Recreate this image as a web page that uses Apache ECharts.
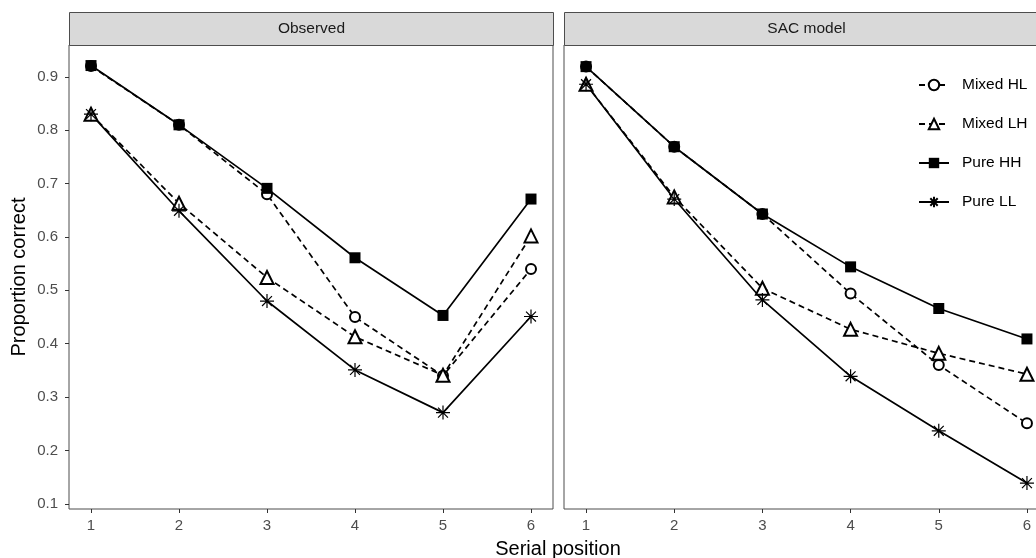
<!DOCTYPE html>
<html>
<head>
<meta charset="utf-8">
<script src="https://cdn.jsdelivr.net/npm/echarts@6/dist/echarts.min.js"></script>
<style>
  html, body { margin: 0; padding: 0; background: #fff; }
  #chart { width: 1036px; height: 558px; }
</style>
</head>
<body>
<div id="chart"></div>
<script>
// serial positions and y ticks
var positions = [1, 2, 3, 4, 5, 6]
var yTicks = [0.1, 0.2, 0.3, 0.4, 0.5, 0.6, 0.7, 0.8, 0.9]
var panelNames = ['Observed', 'SAC model']
var groupNames = ['Mixed HL', 'Mixed LH', 'Pure HH', 'Pure LL']

// Observed
var obsMixedHL = [0.92, 0.81, 0.68, 0.45, 0.34, 0.54]
var obsMixedLH = [0.83, 0.663, 0.524, 0.413, 0.341, 0.602]
var obsPureHH = [0.921, 0.81, 0.691, 0.561, 0.453, 0.671]
var obsPureLL = [0.83, 0.649, 0.48, 0.351, 0.271, 0.451]

// SAC model
var sacMixedHL = [0.919, 0.769, 0.643, 0.494, 0.36, 0.251]
var sacMixedLH = [0.886, 0.675, 0.504, 0.427, 0.382, 0.343]
var sacPureHH = [0.919, 0.769, 0.643, 0.544, 0.466, 0.409]
var sacPureLL = [0.886, 0.671, 0.482, 0.339, 0.237, 0.139]

var FONT = 'Liberation Sans, Arial, sans-serif'
var STAR = 'path://M0,5L10,5M5,0L5,10M1.46,1.46L8.54,8.54M8.54,1.46L1.46,8.54'

function pairs (vals) {
  var out = []
  for (var i = 0; i < positions.length; i++) {
    out.push([positions[i], vals[i]])
  }
  return out
}

// look of each group
var styles = {
  'Mixed HL': { symbol: 'emptyCircle', size: 10, dash: [6, 4], border: 1.2 },
  'Mixed LH': { symbol: 'emptyTriangle', size: 13, dash: [6, 4], border: 1.2 },
  'Pure HH': { symbol: 'rect', size: 11, dash: 'solid', border: 0 },
  'Pure LL': { symbol: STAR, size: 14, dash: 'solid', border: 1.2 }
}

function makeSeries (name, vals, idx) {
  var s = styles[name]
  return {
    name: name,
    type: 'line',
    xAxisIndex: idx,
    yAxisIndex: idx,
    data: pairs(vals),
    symbol: s.symbol,
    symbolSize: s.size,
    showAllSymbol: true,
    animation: false,
    lineStyle: { color: '#000', width: 1.7, type: s.dash },
    itemStyle: { color: '#000', borderColor: '#000', borderWidth: s.border }
  }
}

var series = [
  makeSeries('Mixed HL', obsMixedHL, 0),
  makeSeries('Mixed LH', obsMixedLH, 0),
  makeSeries('Pure HH', obsPureHH, 0),
  makeSeries('Pure LL', obsPureLL, 0),
  makeSeries('Mixed HL', sacMixedHL, 1),
  makeSeries('Mixed LH', sacMixedLH, 1),
  makeSeries('Pure HH', sacPureHH, 1),
  makeSeries('Pure LL', sacPureLL, 1)
]

function xAxis (idx) {
  return {
    type: 'value',
    gridIndex: idx,
    min: 0.75,
    max: 6.25,
    splitLine: { show: false },
    axisLine: { show: false },
    axisTick: { show: true, length: 4, customValues: positions, lineStyle: { color: '#333' } },
    axisLabel: { customValues: positions, color: '#4d4d4d', fontSize: 15, fontFamily: FONT, margin: 9 }
  }
}

function yAxis (idx) {
  return {
    type: 'value',
    gridIndex: idx,
    min: 0.0905,
    max: 0.9595,
    splitLine: { show: false },
    axisLine: { show: false },
    axisTick: { show: idx === 0, length: 4, customValues: yTicks, lineStyle: { color: '#333' } },
    axisLabel: {
      show: idx === 0,
      customValues: yTicks,
      color: '#4d4d4d',
      fontSize: 15,
      fontFamily: FONT,
      margin: 11,
      formatter: function (v) { return v.toFixed(1) }
    }
  }
}

var panelLeft = [69, 564]
var panelWidth = 485

var graphics = []
for (var p = 0; p < panelNames.length; p++) {
  graphics.push({
    type: 'rect',
    left: panelLeft[p],
    top: 12,
    shape: { width: panelWidth - 1, height: 33 },
    style: { fill: '#d9d9d9', stroke: '#4d4d4d', lineWidth: 1 }
  })
  graphics.push({
    type: 'text',
    x: panelLeft[p] + panelWidth / 2,
    y: 29,
    style: { text: panelNames[p], fill: '#1a1a1a', font: '15.5px ' + FONT, textAlign: 'center', textVerticalAlign: 'middle' }
  })
}
graphics.push({
  type: 'text',
  x: 19,
  y: 277,
  rotation: Math.PI / 2,
  style: { text: 'Proportion correct', fill: '#000', font: '20px ' + FONT, textAlign: 'center', textVerticalAlign: 'middle' }
})
graphics.push({
  type: 'text',
  x: 558,
  y: 549,
  style: { text: 'Serial position', fill: '#000', font: '20px ' + FONT, textAlign: 'center', textVerticalAlign: 'middle' }
})

var myChart = echarts.init(document.getElementById('chart'))
myChart.setOption({
  backgroundColor: '#fff',
  animation: false,
  grid: [
    { left: panelLeft[0], top: 45, width: panelWidth - 1, height: 464, show: true, borderColor: '#4d4d4d', borderWidth: 1, backgroundColor: '#fff', outerBoundsMode: 'none' },
    { left: panelLeft[1], top: 45, width: panelWidth, height: 464, show: true, borderColor: '#4d4d4d', borderWidth: 1, backgroundColor: '#fff', outerBoundsMode: 'none' }
  ],
  xAxis: [xAxis(0), xAxis(1)],
  yAxis: [yAxis(0), yAxis(1)],
  legend: {
    data: groupNames,
    orient: 'vertical',
    left: 913,
    top: 72,
    itemWidth: 30,
    itemHeight: 13,
    itemGap: 23,
    textStyle: { color: '#000', fontSize: 15.5, fontFamily: FONT, padding: [0, 0, 0, 8] },
    selectedMode: false
  },
  graphic: graphics,
  series: series
})
</script>
</body>
</html>
